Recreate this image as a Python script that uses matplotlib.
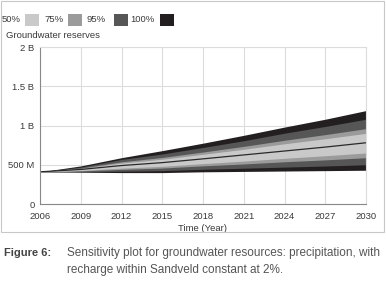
import matplotlib
matplotlib.use("Agg")
import matplotlib.pyplot as plt
from matplotlib.patches import Rectangle
from matplotlib.ticker import FixedLocator

plt.rcParams['font.family'] = ['Liberation Sans', 'DejaVu Sans']

# data (billions)
years = [2006, 2009, 2012, 2015, 2018, 2021, 2024, 2027, 2030]
lo100 = [0.41, 0.405, 0.40, 0.40, 0.41, 0.415, 0.42, 0.425, 0.43]
lo95 = [0.41, 0.412, 0.418, 0.425, 0.442, 0.456, 0.47, 0.484, 0.50]
lo75 = [0.41, 0.421, 0.441, 0.458, 0.486, 0.51, 0.538, 0.562, 0.59]
lo50 = [0.41, 0.427, 0.457, 0.48, 0.514, 0.547, 0.582, 0.615, 0.65]
median = [0.41, 0.44, 0.49, 0.527, 0.575, 0.625, 0.675, 0.725, 0.78]
hi50 = [0.41, 0.452, 0.521, 0.57, 0.633, 0.697, 0.767, 0.831, 0.90]
hi75 = [0.41, 0.458, 0.537, 0.593, 0.662, 0.734, 0.812, 0.884, 0.96]
hi95 = [0.41, 0.47, 0.568, 0.637, 0.72, 0.806, 0.902, 0.988, 1.08]
hi100 = [0.41, 0.485, 0.59, 0.68, 0.775, 0.875, 0.98, 1.08, 1.19]

legend_labels = ['50%', '75%', '95%', '100%']
band_colors = ['#c9c9c9', '#9b9b9b', '#565656', '#231f20']
yticks = [0, 0.5, 1.0, 1.5, 2.0]
ytick_labels = ['0', '500 M', '1 B', '1.5 B', '2 B']
xticks = list(range(2006, 2031, 3))

fig = plt.figure(figsize=(3.86, 2.83), dpi=100)
ax = fig.add_axes([40 / 386, 1 - 204 / 283, 326 / 386, 157 / 283])

bands = [(lo100, hi100), (lo95, hi95), (lo75, hi75), (lo50, hi50)]
for (lo, hi), c in zip(bands, band_colors[::-1]):
    ax.fill_between(years, lo, hi, color=c, lw=0)
ax.plot(years, median, color='#2a2a2a', lw=0.9)

ax.set_xlim(2006, 2030)
ax.set_ylim(0, 2)
ax.xaxis.set_major_locator(FixedLocator(xticks))
ax.yaxis.set_major_locator(FixedLocator(yticks))
ax.set_yticklabels(ytick_labels)
ax.grid(True, color='#dcdcdc', lw=0.8)
ax.set_axisbelow(True)
ax.tick_params(length=0, labelsize=6.8, colors='#3a3a3a')
ax.tick_params(axis='x', pad=6)
ax.tick_params(axis='y', pad=4)
for s in ['top', 'right']:
    ax.spines[s].set_color('#dcdcdc')
for s in ['left', 'bottom']:
    ax.spines[s].set_color('#888888')
    ax.spines[s].set_linewidth(0.8)
ax.set_xlabel('Time (Year)', fontsize=6.8, color='#3a3a3a', labelpad=2)

# outer frame
fig.add_artist(Rectangle((1 / 386, 1 - 232 / 283), 383 / 386, 231 / 283,
                         transform=fig.transFigure, fill=False,
                         ec='#c8c8c8', lw=0.8))

# legend
text_x = [21, 64, 106, 155]
swatch_x = [25, 68, 114, 160]
for lab, tx, sx, c in zip(legend_labels, text_x, swatch_x, band_colors):
    fig.text(tx / 386, 1 - 20 / 283, lab, fontsize=6.8, color='#3a3a3a',
             va='center', ha='right')
    fig.add_artist(Rectangle((sx / 386, 1 - 26 / 283), 14 / 386, 12 / 283,
                             transform=fig.transFigure, color=c, lw=0))
fig.text(6 / 386, 1 - 35 / 283, 'Groundwater reserves', fontsize=6.8,
         color='#3a3a3a', va='center')

# caption
fig.text(4 / 386, 1 - 253 / 283, 'Figure 6:', fontsize=8, fontweight='bold',
         color='#444444', va='center')
fig.text(67 / 386, 1 - 253 / 283,
         'Sensitivity plot for groundwater resources: precipitation, with',
         fontsize=8.5, color='#555555', va='center')
fig.text(67 / 386, 1 - 270 / 283, 'recharge within Sandveld constant at 2%.',
         fontsize=8.5, color='#555555', va='center')

fig.savefig('out.png', dpi=100)
